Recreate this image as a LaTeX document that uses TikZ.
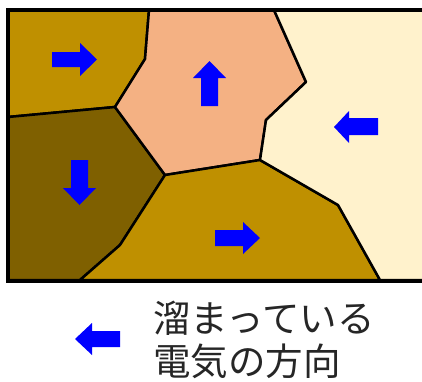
\documentclass[tikz,border=0pt]{standalone}
\usepackage{fontspec}
\newfontfamily\cjk{Noto Sans CJK JP}
\definecolor{goldA}{HTML}{BF9000}
\definecolor{goldD}{HTML}{7F6000}
\definecolor{salmon}{HTML}{F4B183}
\definecolor{cream}{HTML}{FFF2CC}
\tikzset{
  grain/.style={draw=black, line width=2.5pt, line join=round},
  bluearrow/.style={fill=blue, draw=none},
  legendtext/.style={font=\cjk\fontsize{37.5}{40}\selectfont, anchor=base west, inner sep=0pt, text=black!85}
}
\begin{document}
\begin{tikzpicture}[x=1pt,y=-1pt]
\useasboundingbox (0,0) rectangle (422,381);
\begin{scope}
\clip (0,0) rectangle (422,381);
% grains
\filldraw[grain, fill=goldA] (8,10) -- (149,10) -- (145,59) -- (115,107) -- (8,117) -- cycle;
\filldraw[grain, fill=goldD] (8,117) -- (115,107) -- (165,175) -- (120,245) -- (80,280) -- (8,280) -- cycle;
\filldraw[grain, fill=salmon] (149,10) -- (274,10) -- (306,82) -- (266,120) -- (260,160) -- (165,175) -- (115,107) -- (145,59) -- cycle;
\filldraw[grain, fill=goldA] (165,175) -- (260,160) -- (338,205) -- (380,280) -- (80,280) -- (120,245) -- cycle;
\filldraw[grain, fill=cream] (274,10) -- (430,10) -- (430,280) -- (380,280) -- (338,205) -- (260,160) -- (266,120) -- (306,82) -- cycle;
% outer frame
\draw[line width=4pt] (8,9.5) rectangle (440,280.5);
\end{scope}
% arrows
\fill[bluearrow] (52,52) -- (80,52) -- (80,43) -- (97,59.5) -- (80,76) -- (80,67) -- (52,67) -- cycle;
\fill[bluearrow] (215,230) -- (243,230) -- (243,222) -- (260,238) -- (243,254) -- (243,246) -- (215,246) -- cycle;
\fill[bluearrow] (201,106) -- (201,78) -- (193,78) -- (209.5,61) -- (226,78) -- (218,78) -- (218,106) -- cycle;
\fill[bluearrow] (378,118) -- (349,118) -- (349,111) -- (334,127) -- (349,143) -- (349,135) -- (378,135) -- cycle;
\fill[bluearrow] (71,160) -- (71,188) -- (63,188) -- (79.5,205) -- (96,188) -- (88,188) -- (88,160) -- cycle;
\fill[bluearrow] (120,331) -- (92,331) -- (92,323) -- (75,339) -- (92,355) -- (92,347) -- (120,347) -- cycle;
% legend text
\node[legendtext] (l1) at (153,332) {溜まっている};
\node[legendtext] (l2) at (153,375.5) {電気の方向};
\end{tikzpicture}
\end{document}
